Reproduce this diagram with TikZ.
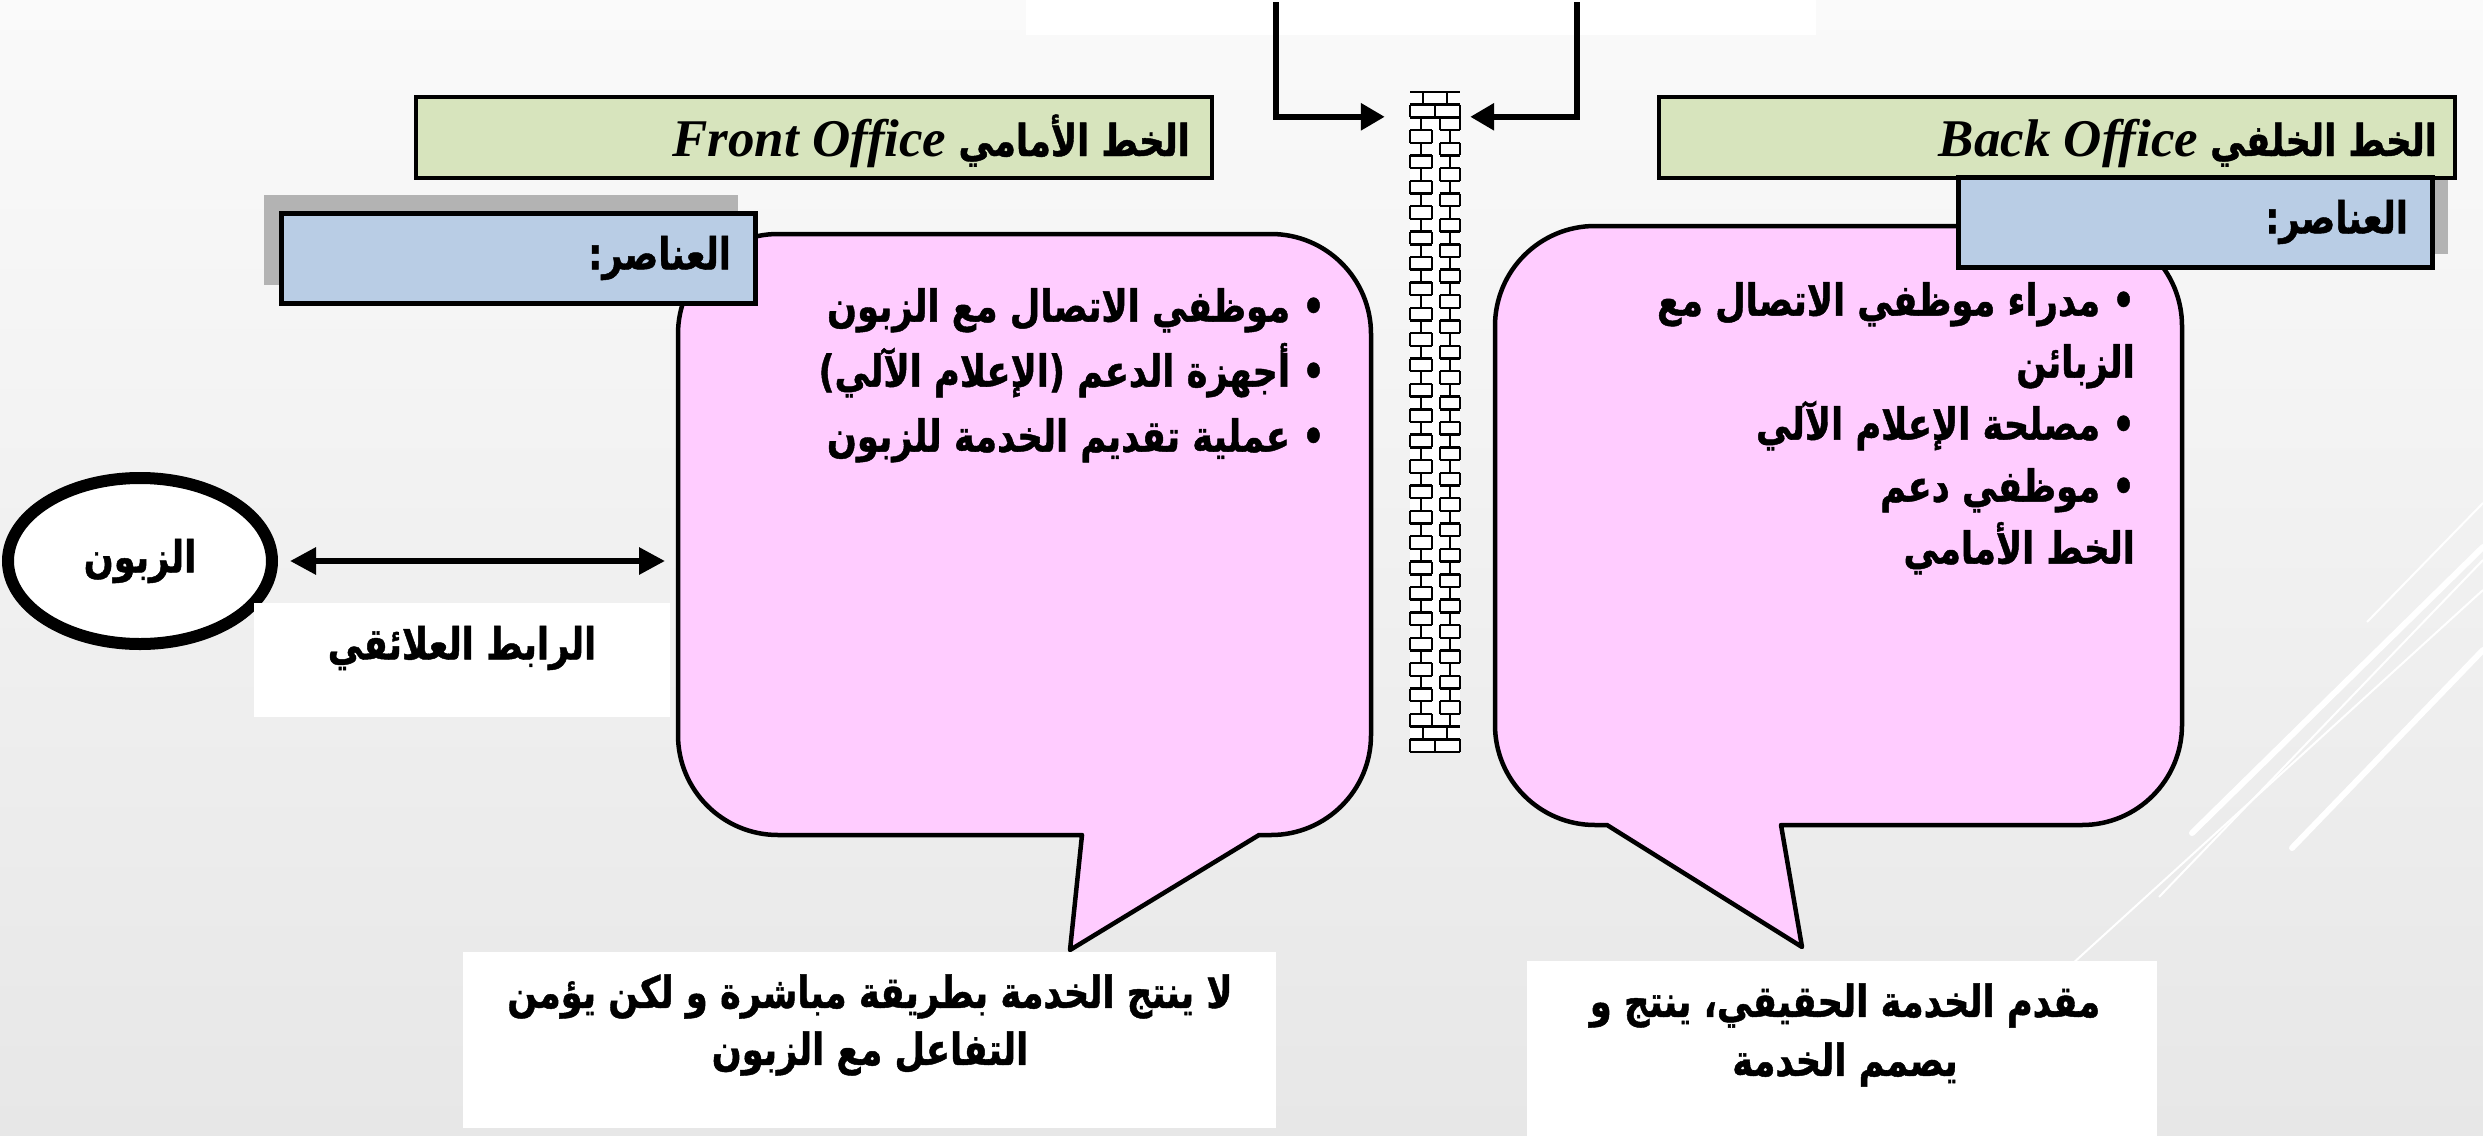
\documentclass[tikz,border=0pt]{standalone}
\usepackage{fontspec}
\setmainfont{Liberation Serif}
\newfontfamily\arabicfont[Script=Arabic, FakeStretch=0.8, BoldFeatures={FakeBold=1}]{DejaVu Sans}
\TeXXeTstate=1
\usetikzlibrary{arrows.meta,shapes.geometric}
\newcommand{\ar}[1]{{\arabicfont\bfseries\beginR #1\endR}}
\definecolor{ttlgreen}{HTML}{D7E4BD}
\definecolor{elblue}{HTML}{B9CDE5}
\definecolor{callpink}{HTML}{FFCCFF}
\definecolor{shadowgray}{HTML}{B3B3B3}
\definecolor{bgtop}{HTML}{FAFAFA}
\definecolor{bgbot}{HTML}{E7E7E7}
\begin{document}
\begin{tikzpicture}[x=1pt,y=1pt]
\tikzset{
 titlebox/.style={draw=black, line width=4pt, fill=ttlgreen, minimum width=796pt, minimum height=81pt, inner sep=0pt},
 titletext/.style={inner sep=0pt, anchor=base east},
 elbox/.style={draw=black, line width=5pt, fill=elblue, minimum width=474pt, minimum height=90pt, inner sep=0pt, text width=426pt, align=right},
 shadowbox/.style={fill=shadowgray, minimum width=474pt, minimum height=90pt, inner sep=0pt},
 callout/.style={draw=black, line width=4.5pt, fill=callpink, line join=round},
 whitebox/.style={fill=white, inner sep=0pt},
 artext/.style={inner sep=0pt, font=\fontsize{44}{65}\selectfont},
 bracket/.style={line width=6pt, -{Triangle[length=24pt,width=26pt]}},
 dblarrow/.style={line width=6pt, {Triangle[length=26pt,width=26pt]}-{Triangle[length=26pt,width=26pt]}},
 decorthick/.style={white, line width=6pt, line cap=round},
 decorthin/.style={white, line width=2pt},
 brick/.style={line width=2.4pt},
}
\useasboundingbox (0,0) rectangle (2483,-1135);
\shade[top color=bgtop, bottom color=bgbot] (0,0) rectangle (2483,-1135);
% decorative lines
\draw[decorthick] (2483,-547) -- (2192,-833);
\draw[decorthick] (2483,-650) -- (2292,-848);
\draw[decorthin] (2483,-503) -- (2367,-622);
\draw[decorthin] (2483,-560) -- (2159,-897);
\draw[decorthin] (2483,-590) -- (2060,-975);
% top white box and brackets
\node[whitebox, minimum width=790pt, minimum height=35pt, anchor=north west] (topbox) at (1026,0) {};
\node[fill=white, minimum width=50pt, minimum height=660pt, inner sep=0pt] (wall) at (1435,-422) {};
\foreach \i in {0,...,52}{
  \pgfmathsetmacro{\yy}{-92-12.692*\i}
  \ifnum\i<3\relax \draw[brick] (1410,\yy) -- (1460,\yy);
  \else\ifnum\i>49\relax \draw[brick] (1410,\yy) -- (1460,\yy);
  \else \draw[brick] (1410,\yy) -- (1432,\yy) (1440,\yy) -- (1460,\yy);
  \fi\fi
}
\foreach \i in {0,...,51}{
  \pgfmathsetmacro{\ya}{-92-12.692*\i}
  \pgfmathsetmacro{\yb}{-92-12.692*(\i+1)}
  \pgfmathtruncatemacro{\pty}{mod(\i,2)}
  \ifnum\i<2\relax \def\full{1}\else\ifnum\i>49\relax \def\full{1}\else\def\full{0}\fi\fi
  \ifnum\full=1\relax
    \ifnum\pty=0\relax \draw[brick] (1423,\ya)--(1423,\yb) (1447,\ya)--(1447,\yb);
    \else \draw[brick] (1410,\ya)--(1410,\yb) (1435,\ya)--(1435,\yb) (1460,\ya)--(1460,\yb); \fi
  \else
    \ifnum\pty=0\relax \draw[brick] (1421,\ya)--(1421,\yb) (1440,\ya)--(1440,\yb) (1460,\ya)--(1460,\yb);
    \else \draw[brick] (1410,\ya)--(1410,\yb) (1432,\ya)--(1432,\yb) (1450,\ya)--(1450,\yb); \fi
  \fi
}
\coordinate (bl0) at (1276,-2);
\coordinate (br0) at (1577,-2);
\path (wall.north west) ++(-25pt,-25pt) coordinate (la);
\path (wall.north east) ++(10pt,-25pt) coordinate (ra);
\draw[bracket] (bl0) |- (la);
\draw[bracket] (br0) |- (ra);
% shadows
\node[shadowbox] (lshadow) at (501,-240) {};
\node[shadowbox] (rshadow) at (2211,-209) {};
% titles
\node[titlebox] (ftitle) at (814,-137.5) {};
\node[titletext] (ftitletxt) at (1190,-156) {{\fontsize{53}{60}\selectfont\bfseries\itshape Front Office}\hspace{12pt}{\fontsize{44}{50}\selectfont\ar{الخط الأمامي}}};
\node[titlebox] (btitle) at (2057,-137.5) {};
\node[titletext] (btitletxt) at (2437,-156) {{\fontsize{53}{60}\selectfont\bfseries\itshape Back Office}\hspace{12pt}{\fontsize{44}{50}\selectfont\ar{الخط الخلفي}}};
% callouts
\draw[callout] (778,-234) -- (1271,-234) arc[start angle=90,end angle=0,radius=100] -- (1371,-735) arc[start angle=0,end angle=-90,radius=100] -- (1259,-835) -- (1070,-950) -- (1082,-835) -- (778,-835) arc[start angle=270,end angle=180,radius=100] -- (678,-334) arc[start angle=180,end angle=90,radius=100] -- cycle;
\draw[callout] (1595,-226) -- (2082,-226) arc[start angle=90,end angle=0,radius=100] -- (2182,-725) arc[start angle=0,end angle=-90,radius=100] -- (1781,-825) -- (1802,-947) -- (1607,-825) -- (1595,-825) arc[start angle=270,end angle=180,radius=100] -- (1495,-326) arc[start angle=180,end angle=90,radius=100] -- cycle;
% element boxes
\node[elbox] (lel) at (518,-258) {\fontsize{44}{50}\selectfont\ar{العناصر:}};
\node[elbox] (rel) at (2195,-222) {\fontsize{44}{50}\selectfont\ar{العناصر:}};
% callout texts
\node[artext, align=right, anchor=north east] (ltext) at (1325,-288) {\ar{• موظفي الاتصال مع الزبون}\\ \ar{• أجهزة الدعم (الإعلام الآلي)}\\ \ar{• عملية تقديم الخدمة للزبون}};
\node[artext, align=right, anchor=north east, font=\fontsize{44}{62}\selectfont] (rtext) at (2135,-282) {\ar{• مدراء موظفي الاتصال مع}\\ \ar{الزبائن}\hspace{40pt}\\ \ar{• مصلحة الإعلام الآلي}\\ \ar{• موظفي دعم}\\ \ar{الخط الأمامي}\hspace{40pt}};
% customer
\node[draw=black, line width=12pt, ellipse, fill=white, minimum width=264pt, minimum height=166pt, inner sep=0pt, font=\fontsize{44}{50}\selectfont] (cust) at (140,-561) {\ar{الزبون}};
\coordinate (lcw) at (665,-561);
\draw[dblarrow, shorten <=12pt] (cust.east) -- (lcw);
\node[whitebox, minimum width=416pt, minimum height=114pt] (relbox) at (462,-660) {};
\node[artext] (reltxt) at (462,-648) {\ar{الرابط العلائقي}};
% bottom boxes
\node[whitebox, minimum width=813pt, minimum height=176pt] (lbot) at (869.5,-1040) {};
\node[artext, align=center, font=\fontsize{44}{57}\selectfont] (lbottxt) at (870,-1025) {\ar{لا ينتج الخدمة بطريقة مباشرة و لكن يؤمن}\\ \ar{التفاعل مع الزبون}};
\node[whitebox, minimum width=630pt, minimum height=175pt] (rbot) at (1842,-1048.5) {};
\node[artext, align=center, font=\fontsize{44}{59}\selectfont] (rbottxt) at (1845,-1035) {\ar{مقدم الخدمة الحقيقي، ينتج و}\\ \ar{يصمم الخدمة}};
\end{tikzpicture}
\end{document}
